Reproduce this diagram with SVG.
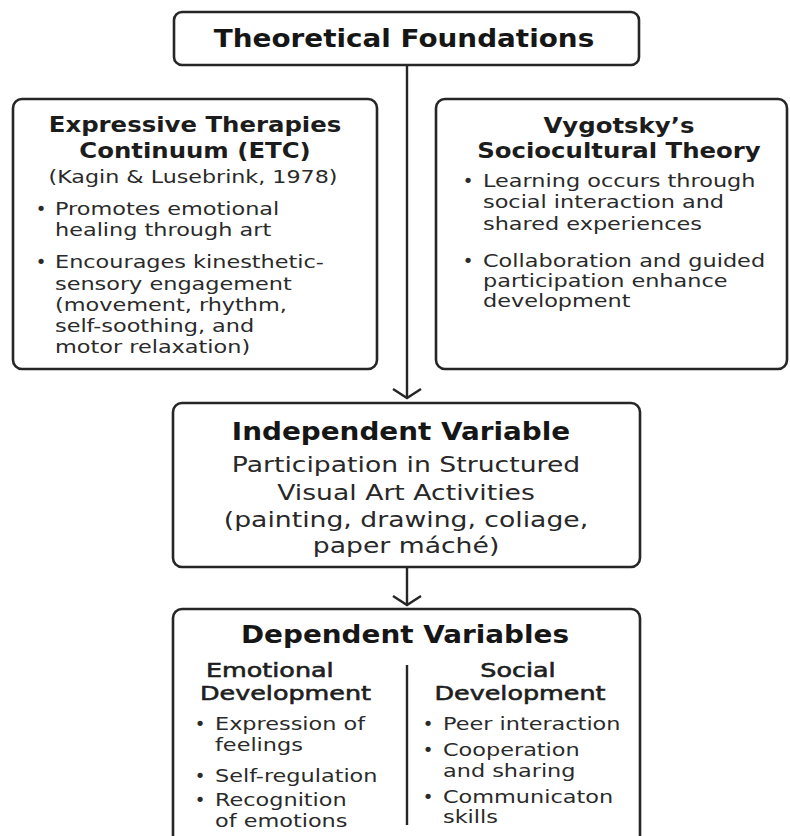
<svg xmlns="http://www.w3.org/2000/svg" width="790" height="836" viewBox="0 0 790 836">
<style>
  .box { fill: #ffffff; stroke: #262626; stroke-width: 2.6; }
  .conn { stroke: #262626; stroke-width: 2.4; fill: none; }
  text { font-family: "DejaVu Sans", "Liberation Sans", sans-serif; }
  .h1 { font-size: 24px; font-weight: bold; fill: #161616; text-anchor: middle; }
  .h2 { font-size: 20.5px; font-weight: bold; fill: #1c1c1c; text-anchor: middle; }
  .h3 { font-size: 20px; font-weight: normal; fill: #1e1e1e; stroke: #1e1e1e; stroke-width: 0.6; }
  .body { font-size: 18.5px; fill: #2a2a2a; }
  .big { font-size: 20.5px; fill: #282828; text-anchor: middle; }
  .bul { font-size: 18px; fill: #2a2a2a; text-anchor: middle; }
  .mid { text-anchor: middle; }
</style>
<defs>
  <marker id="chev" viewBox="-12 -16 14 32" refX="0" refY="0" markerWidth="14" markerHeight="32" markerUnits="userSpaceOnUse" orient="auto">
    <path d="M-9,-14 L0,0 L-9,14" fill="none" stroke="#262626" stroke-width="2.4" stroke-linejoin="miter"/>
  </marker>
</defs>
<rect width="790" height="836" fill="#ffffff"/>

<g id="connectors">
  <line class="conn" x1="407" y1="65" x2="407" y2="398" marker-end="url(#chev)"/>
  <line class="conn" x1="407" y1="567" x2="407" y2="605" marker-end="url(#chev)"/>
</g>

<g id="theoretical-foundations">
  <rect class="box" x="174" y="12" width="465" height="53" rx="8"/>
  <text class="h1" transform="translate(404,47) scale(1.16,1)">Theoretical Foundations</text>
</g>

<g id="etc">
  <rect class="box" x="13" y="99" width="364" height="270" rx="9"/>
  <text class="h2" transform="translate(195,132) scale(1.19,1)"><tspan x="0" dy="0">Expressive Therapies</tspan><tspan x="0" dy="26">Continuum (ETC)</tspan></text>
  <text class="body mid" transform="translate(193,183) scale(1.2,1)">(Kagin &amp; Lusebrink, 1978)</text>
  <text class="bul" x="41" y="215">•</text>
  <text class="body" transform="translate(55,215) scale(1.21,1)"><tspan x="0" dy="0">Promotes emotional</tspan><tspan x="0" dy="21">healing through art</tspan></text>
  <text class="bul" x="41" y="268">•</text>
  <text class="body" transform="translate(55,268) scale(1.21,1)"><tspan x="0" dy="0">Encourages kinesthetic-</tspan><tspan x="0" dy="22">sensory engagement</tspan><tspan x="0" dy="21">(movement, rhythm,</tspan><tspan x="0" dy="21">self-soothing, and</tspan><tspan x="0" dy="21">motor relaxation)</tspan></text>
</g>

<g id="vygotsky">
  <rect class="box" x="436" y="99" width="351" height="270" rx="9"/>
  <text class="h2" transform="translate(619,133) scale(1.19,1)"><tspan x="0" dy="0">Vygotsky’s</tspan><tspan x="0" dy="25">Sociocultural Theory</tspan></text>
  <text class="bul" x="468" y="187">•</text>
  <text class="body" transform="translate(483,187) scale(1.21,1)"><tspan x="0" dy="0">Learning occurs through</tspan><tspan x="0" dy="21">social interaction and</tspan><tspan x="0" dy="22">shared experiences</tspan></text>
  <text class="bul" x="468" y="267">•</text>
  <text class="body" transform="translate(483,267) scale(1.21,1)"><tspan x="0" dy="0">Collaboration and guided</tspan><tspan x="0" dy="20">participation enhance</tspan><tspan x="0" dy="20">development</tspan></text>
</g>

<g id="independent-variable">
  <rect class="box" x="173" y="403" width="467" height="164" rx="9"/>
  <text class="h1" transform="translate(401,440) scale(1.16,1)">Independent Variable</text>
  <text class="big" transform="translate(406,472) scale(1.3,1)"><tspan x="0" dy="0">Participation in Structured</tspan><tspan x="0" dy="28">Visual Art Activities</tspan><tspan x="0" dy="27">(painting, drawing, coliage,</tspan><tspan x="0" dy="26">paper máché)</tspan></text>
</g>

<g id="dependent-variables">
  <rect class="box" x="173" y="609" width="467" height="250" rx="9"/>
  <text class="h1" transform="translate(405,643) scale(1.16,1)">Dependent Variables</text>
  <line class="conn" x1="407" y1="665" x2="407" y2="825"/>
  <text class="h3" transform="translate(206,677) scale(1.27,1)">Emotional</text>
  <text class="h3" transform="translate(200,700) scale(1.27,1)">Development</text>
  <text class="bul" x="200" y="730">•</text>
  <text class="body" transform="translate(215,730) scale(1.21,1)"><tspan x="0" dy="0">Expression of</tspan><tspan x="0" dy="21">feelings</tspan></text>
  <text class="bul" x="200" y="782">•</text>
  <text class="body" transform="translate(215,782) scale(1.21,1)">Self-regulation</text>
  <text class="bul" x="200" y="806">•</text>
  <text class="body" transform="translate(215,806) scale(1.21,1)"><tspan x="0" dy="0">Recognition</tspan><tspan x="0" dy="21">of emotions</tspan></text>
  <text class="h3 mid" transform="translate(518,677) scale(1.27,1)">Social</text>
  <text class="h3 mid" transform="translate(520,700) scale(1.27,1)">Development</text>
  <text class="bul" x="428" y="730">•</text>
  <text class="body" transform="translate(443,730) scale(1.21,1)">Peer interaction</text>
  <text class="bul" x="428" y="756">•</text>
  <text class="body" transform="translate(443,756) scale(1.21,1)"><tspan x="0" dy="0">Cooperation</tspan><tspan x="0" dy="21">and sharing</tspan></text>
  <text class="bul" x="428" y="803">•</text>
  <text class="body" transform="translate(443,803) scale(1.21,1)"><tspan x="0" dy="0">Communicaton</tspan><tspan x="0" dy="20">skills</tspan></text>
</g>
</svg>
